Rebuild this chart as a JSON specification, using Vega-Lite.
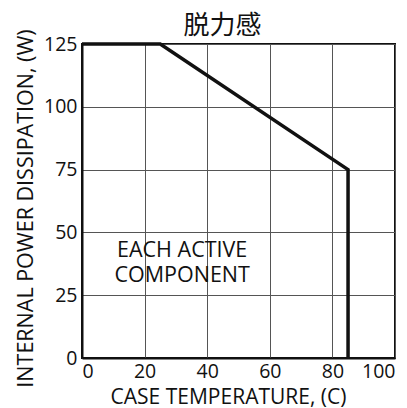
{
  "$schema": "https://vega.github.io/schema/vega-lite/v6.json",
  "width": 313,
  "height": 314,
  "autosize": {"type": "none"},
  "padding": {"left": 82, "top": 44, "right": 12, "bottom": 50},
  "background": "white",
  "title": {"text": "脱力感", "fontSize": 26, "fontWeight": "normal", "font": "Noto Sans CJK SC", "color": "#111", "anchor": "middle", "frame": "group", "dx": -16, "offset": -10},
  "config": {
    "view": {"stroke": "#111", "strokeWidth": 2},
    "font": "Open Sans"
  },
  "datasets": {
    "curve": [
      {"t": 0, "p": 125},
      {"t": 25, "p": 125},
      {"t": 85, "p": 75},
      {"t": 85, "p": 0}
    ],
    "notes": [
      {"t": 32, "p": 40.2, "label": "EACH ACTIVE"},
      {"t": 32, "p": 30.3, "label": "COMPONENT"}
    ]
  },
  "layer": [
    {
      "data": {"name": "curve"},
      "mark": {"type": "line", "color": "#111", "strokeWidth": 3.5, "strokeJoin": "miter"},
      "encoding": {
        "x": {"field": "t", "type": "quantitative", "scale": {"domain": [0, 100], "nice": false},
          "axis": {"title": "CASE TEMPERATURE, (C)", "values": [0, 20, 40, 60, 80, 100], "ticks": false, "domainColor": "#111", "domainWidth": 2, "gridColor": "#555", "gridWidth": 1, "gridOpacity": 1, "labelFontSize": 19.5, "labelColor": "#111", "labelPadding": 4, "titleFontSize": 21, "titleFontWeight": "normal", "titleColor": "#111", "titleX": 146, "titleY": 45, "titleBaseline": "alphabetic"}},
        "y": {"field": "p", "type": "quantitative", "scale": {"domain": [0, 125], "nice": false},
          "axis": {"title": "INTERNAL POWER DISSIPATION, (W)", "values": [0, 25, 50, 75, 100, 125], "ticks": false, "domainColor": "#111", "domainWidth": 2, "gridColor": "#555", "gridWidth": 1, "gridOpacity": 1, "labelFontSize": 19.5, "labelColor": "#111", "labelPadding": 5, "titleFontSize": 21.5, "titleFontWeight": "normal", "titleColor": "#111", "titleX": -50, "titleY": 164, "titleBaseline": "alphabetic"}},
        "order": {"field": "t", "type": "quantitative"}
      }
    },
    {
      "data": {"name": "notes"},
      "mark": {"type": "text", "fontSize": 21.5, "color": "#111", "align": "center", "baseline": "alphabetic"},
      "encoding": {
        "x": {"field": "t", "type": "quantitative"},
        "y": {"field": "p", "type": "quantitative"},
        "text": {"field": "label"}
      }
    }
  ]
}
